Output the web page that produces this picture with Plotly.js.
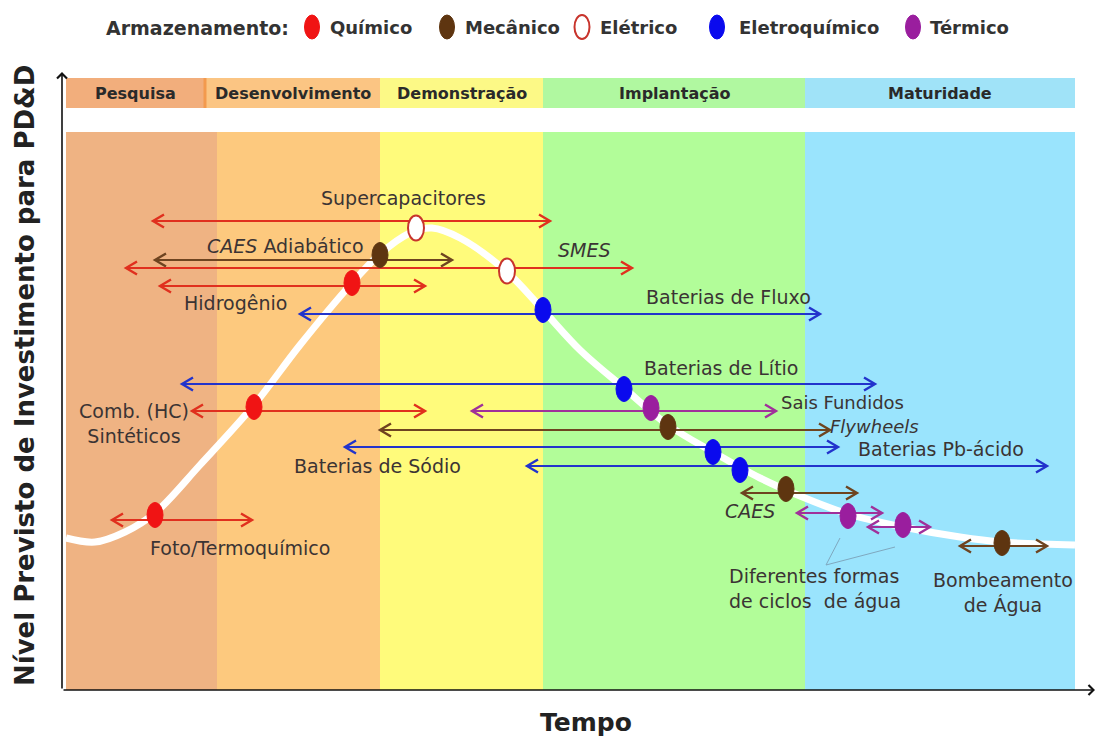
<!DOCTYPE html>
<html>
<head>
<meta charset="utf-8">
<script src="https://cdn.plot.ly/plotly-3.0.1.min.js"></script>
<style>html,body{margin:0;padding:0;background:#fff;}#chart{width:1100px;height:738px;}</style>
</head>
<body>
<div id="chart"></div>
<script>
// ---- Stages (x = tempo, y = nível) ----
const stageNames  = ['Pesquisa','Desenvolvimento','Demonstração','Implantação','Maturidade'];
const stageStart  = [4, 155, 318, 481, 743];
const stageEnd    = [155, 318, 481, 743, 1013];
const headerStart = [4, 143, 318, 481, 743];
const headerEnd   = [143, 318, 481, 743, 1013];
const stageColors  = ['#EFB383','#FDC97E','#FFFB7B','#B2FD99','#9AE4FD'];
const headerColors = ['#F2AE7C','#FBC583','#FCF986','#B0F8A0','#A0E3F8'];

// ---- Investment curve ----
const curveX = [4, 33, 63, 93, 138, 192, 238, 290, 318, 348, 370, 398, 445, 481, 518, 562, 606, 651, 698, 738, 786, 841, 898, 940, 1013];
const curveY = [152, 148, 158, 177, 225, 285, 345, 407, 436, 457, 462, 452, 418, 380, 340, 302, 265, 238, 212, 194, 176, 163, 153, 148, 145];

// ---- Technologies ----
const techNames = ['Supercapacitores','CAES Adiabático','SMES','Hidrogênio','Baterias de Fluxo','Baterias de Lítio','Comb. (HC) Sintéticos','Sais Fundidos','Flywheels','Baterias de Sódio','Baterias Pb-ácido','CAES','Ciclos de água 1','Ciclos de água 2','Bombeamento de Água','Foto/Termoquímico'];
const techType  = ['Elétrico','Mecânico','Elétrico','Químico','Eletroquímico','Eletroquímico','Químico','Térmico','Mecânico','Eletroquímico','Eletroquímico','Mecânico','Térmico','Térmico','Mecânico','Químico'];
const techTime  = [354, 318, 445, 290, 481, 562, 192, 589, 606, 651, 678, 724, 786, 841, 940, 93];
const techLevel = [462, 435, 419, 407, 380, 301, 283, 282, 263, 238, 220, 201, 174, 165, 147, 175];
const spanStart = [91, 93, 64, 98, 238, 120, 130, 410, 318, 283, 465, 680, 735, 806, 898, 50];
const spanEnd   = [488, 390, 570, 363, 758, 813, 363, 714, 768, 776, 985, 795, 820, 868, 985, 190];
const spanLevel = [469, 430, 422, 404, 376, 306, 279, 279, 260, 243, 224, 197, 177, 163, 144, 170];

// ---- Text labels ----
const labelText = ['Supercapacitores','<i>CAES</i> Adiabático','<i>SMES</i>','Hidrogênio','Baterias de Fluxo','Baterias de Lítio','Comb. (HC)<br>Sintéticos','Sais Fundidos','<i>Flywheels</i>','Baterias de Sódio','Baterias Pb-ácido','<i>CAES</i>','Foto/Termoquímico','Diferentes formas<br>de ciclos  de água','Bombeamento<br>de Água'];
const labelX = [341, 223, 522, 173, 666, 659, 72, 780, 812, 315, 879, 688, 178, 665, 941];
const labelY = [492, 444, 440, 387, 393, 322, 267, 288, 264, 224, 241, 179, 142, 102, 98];

// ---- Storage types (legend) ----
const typeNames  = ['Químico','Mecânico','Elétrico','Eletroquímico','Térmico'];
const typeFill   = ['#F01414','#5E3510','#FFFFFF','#0A0AEE','#9A1E9E'];
const typeLine   = ['#F01414','#5E3510','#C8342C','#0A0AEE','#9A1E9E'];
const typeArrow  = ['#E0301E','#6E4420','#E0301E','#2233CC','#A0309A'];

const L = 62, R = 5, T = 72, B = 48, W = 1100, H = 738;
const PW = W - L - R, PH = H - T - B;
const px2x = p => (p - L) / PW;
const py2y = p => (H - B - p) / PH;

const shapes = [];
const annotations = [];

// background bands
stageNames.forEach((s, i) => {
  shapes.push({type:'rect', xref:'x', yref:'y', x0:stageStart[i], x1:stageEnd[i], y0:0, y1:558,
    fillcolor:stageColors[i], line:{width:0}, layer:'below'});
  shapes.push({type:'rect', xref:'x', yref:'y', x0:headerStart[i], x1:headerEnd[i], y0:582, y1:612,
    fillcolor:headerColors[i], line:{width:0}, layer:'below'});
  annotations.push({xref:'x', yref:'y', x:(headerStart[i]+headerEnd[i])/2, y:597, text:'<b>'+s+'</b>',
    showarrow:false, yanchor:'middle', font:{family:'DejaVu Sans', size:16, color:'#2a2a2a'}});
});
shapes.push({type:'line', xref:'x', yref:'y', x0:143, x1:143, y0:582, y1:612, line:{color:'#F39A4E', width:3}, layer:'below'});

// arrows
techNames.forEach((t, i) => {
  const k = typeNames.indexOf(techType[i]);
  const c = typeArrow[k];
  shapes.push({type:'line', xref:'x', yref:'y', x0:spanStart[i], x1:spanEnd[i], y0:spanLevel[i], y1:spanLevel[i],
    line:{color:c, width:2.2}, layer:'above'});
  shapes.push({type:'path', xref:'x', yref:'y', xsizemode:'pixel', ysizemode:'pixel',
    xanchor:spanStart[i], yanchor:spanLevel[i], path:'M 11,6.5 L 0,0 L 11,-6.5', line:{color:c, width:2.4}, layer:'above'});
  shapes.push({type:'path', xref:'x', yref:'y', xsizemode:'pixel', ysizemode:'pixel',
    xanchor:spanEnd[i], yanchor:spanLevel[i], path:'M -11,6.5 L 0,0 L -11,-6.5', line:{color:c, width:2.4}, layer:'above'});
});

// leader lines for water cycles
[12, 13].forEach(i => {
  shapes.push({type:'line', xref:'x', yref:'y', x0:764, y0:125, x1:techTime[i]-8, y1:techLevel[i]-22,
    line:{color:'#7FA8BF', width:1}, layer:'above'});
});

// markers (ellipses)
techNames.forEach((t, i) => {
  const k = typeNames.indexOf(techType[i]);
  shapes.push({type:'circle', xref:'x', yref:'y', xsizemode:'pixel', ysizemode:'pixel',
    xanchor:techTime[i], yanchor:techLevel[i], x0:-8, x1:8, y0:-12.5, y1:12.5,
    fillcolor:typeFill[k], line:{color:typeLine[k], width: typeFill[k]==='#FFFFFF' ? 2 : 1}, layer:'above'});
});

// labels
labelText.forEach((t, i) => {
  const multiLeft = (i === 13);
  const tight = (i === 7 || i === 8);
  annotations.push({xref:'x', yref:'y', x:labelX[i], y:labelY[i], text:t, showarrow:false,
    xanchor: multiLeft ? 'left' : 'center', yanchor:'middle', align: multiLeft ? 'left' : 'center',
    borderpad: tight ? 0 : 1,
    font:{family:'DejaVu Sans', size: tight ? 18 : 19, color:'#3b3434'}});
});

// legend (manual)
const legX = [312, 447, 582, 717, 913];
const legTextX = [328, 463, 598, 737, 928];
annotations.push({xref:'paper', yref:'paper', x:px2x(104), y:py2y(28), xanchor:'left', yanchor:'middle', text:'<b>Armazenamento:</b>',
  showarrow:false, font:{family:'DejaVu Sans', size:19, color:'#333'}});
typeNames.forEach((n, k) => {
  shapes.push({type:'circle', xref:'paper', yref:'paper', xsizemode:'pixel', ysizemode:'pixel',
    xanchor:px2x(legX[k]), yanchor:py2y(27), x0:-7.5, x1:7.5, y0:-12, y1:12,
    fillcolor:typeFill[k], line:{color:typeLine[k], width: typeFill[k]==='#FFFFFF' ? 2 : 1}});
  annotations.push({xref:'paper', yref:'paper', x:px2x(legTextX[k]), y:py2y(28), xanchor:'left', yanchor:'middle', text:'<b>'+n+'</b>',
    showarrow:false, font:{family:'DejaVu Sans', size:18, color:'#333'}});
});

// axis arrows
annotations.push({xref:'paper', yref:'paper', x:0, y:1, ax:0, ay:PH, axref:'pixel', ayref:'pixel', text:'', showarrow:true,
  arrowhead:4, arrowsize:1.2, arrowwidth:1.6, arrowcolor:'#111'});
annotations.push({xref:'paper', yref:'paper', x:1, y:0, ax:-PW, ay:0, axref:'pixel', ayref:'pixel', text:'', showarrow:true,
  arrowhead:4, arrowsize:1.2, arrowwidth:1.6, arrowcolor:'#111'});

// axis titles
annotations.push({xref:'paper', yref:'paper', x:px2x(25), y:py2y(376), xanchor:'center', yanchor:'middle', text:'<b>Nível Previsto de Investimento para PD&D</b>',
  textangle:-90, showarrow:false, font:{family:'DejaVu Sans', size:26, color:'#222'}});
annotations.push({xref:'paper', yref:'paper', x:px2x(586), y:py2y(722), xanchor:'center', yanchor:'middle', text:'<b>Tempo</b>',
  showarrow:false, font:{family:'DejaVu Sans', size:25, color:'#222'}});

const traces = [{
  x: curveX, y: curveY, type:'scatter', mode:'lines',
  line:{color:'#FFFFFF', width:7, shape:'spline', smoothing:1},
  hoverinfo:'skip', showlegend:false
}];

const layout = {
  width:W, height:H, margin:{l:L, r:R, t:T, b:B},
  paper_bgcolor:'#FFFFFF', plot_bgcolor:'#FFFFFF',
  showlegend:false,
  xaxis:{range:[0, PW], showgrid:false, zeroline:false, showticklabels:false, ticks:'', fixedrange:true, showline:false},
  yaxis:{range:[0, PH], showgrid:false, zeroline:false, showticklabels:false, ticks:'', fixedrange:true, showline:false},
  shapes: shapes, annotations: annotations
};

Plotly.newPlot('chart', traces, layout, {displayModeBar:false, staticPlot:true});
</script>
</body>
</html>
